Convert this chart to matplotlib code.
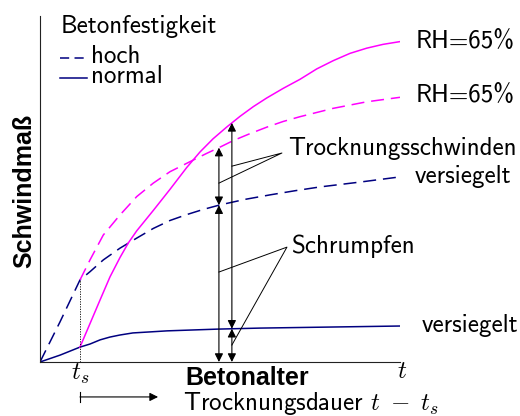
import numpy as np
import matplotlib.pyplot as plt

plt.rcParams['mathtext.fontset'] = 'cm'

# Schwindmass ueber Betonalter t (ohne Einheiten), Trocknungsbeginn bei t_s
ts = 1.11

t_hoch_vers = [0, 0.556, 1.11, 1.389, 1.758, 2.222, 2.686, 3.147, 3.611, 4.075, 4.536,
               5.0, 5.694, 6.389, 7.083, 7.778, 8.889, 10]
eps_hoch_vers = [0, 1.16, 2.37, 2.61, 2.95, 3.29, 3.58, 3.86, 4.09, 4.26, 4.41,
                 4.54, 4.70, 4.83, 4.95, 5.06, 5.20, 5.35]

t_hoch_rh = [1.11, 1.389, 1.758, 2.222, 2.686, 3.147, 3.611, 4.167, 4.631, 5.0, 5.369,
             5.833, 6.306, 6.75, 7.222, 8.139, 9.075, 10]
eps_hoch_rh = [2.37, 2.95, 3.67, 4.25, 4.78, 5.17, 5.50, 5.79, 6.03, 6.21, 6.40,
               6.60, 6.79, 6.95, 7.09, 7.33, 7.52, 7.65]

t_norm_vers = [0, 0.56, 1.11, 1.39, 1.67, 1.94, 2.22, 2.58, 3.06, 3.53, 4.92, 6.11, 8.06, 10]
eps_norm_vers = [0, 0.20, 0.43, 0.52, 0.64, 0.72, 0.78, 0.84, 0.87, 0.90, 0.95, 0.98, 1.01, 1.04]

t_norm_rh = [1.11, 1.389, 1.667, 1.944, 2.222, 2.453, 2.686, 3.147, 3.611, 4.075, 4.444,
             4.806, 5.186, 5.556, 5.925, 6.297, 6.758, 7.222, 7.686, 8.147, 8.611,
             9.075, 9.528, 10]
eps_norm_rh = [0.43, 1.11, 1.79, 2.46, 3.02, 3.44, 3.79, 4.38, 4.99, 5.62, 6.07,
               6.45, 6.79, 7.10, 7.38, 7.63, 7.91, 8.17, 8.47, 8.71, 8.92,
               9.07, 9.18, 9.26]

# Zeitpunkte der Masspfeile (hoch / normal)
t_pfeil_hoch = 4.97
t_pfeil_norm = 5.33

MAG = '#ff00ff'
NAVY = '#000080'
DASH = (0, (8.5, 4.5))
LW = 1.1
FS = 18
REG = 'cmss10'
BOLD = dict(family='Liberation Sans', weight='bold', size=18)

fig = plt.figure(figsize=(5.2, 4.16), dpi=100)
ax = fig.add_axes([40/520, 54/416, 360/520, 346/416])
ax.set_xlim(0, 10)
ax.set_ylim(0, 10)
for s in ['top', 'right']:
    ax.spines[s].set_visible(False)
for s in ['left', 'bottom']:
    ax.spines[s].set_linewidth(0.8)
    ax.spines[s].set_color('#222222')
ax.set_xticks([])
ax.set_yticks([])

ax.plot(t_hoch_vers, eps_hoch_vers, color=NAVY, lw=LW, ls=DASH)
ax.plot(t_hoch_rh, eps_hoch_rh, color=MAG, lw=LW, ls=DASH)
ax.plot(t_norm_vers, eps_norm_vers, color=NAVY, lw=LW)
ax.plot(t_norm_rh, eps_norm_rh, color=MAG, lw=LW)

# Trocknungsbeginn
y_ts = np.interp(ts, t_hoch_vers, eps_hoch_vers)
ax.plot([ts, ts], [0, y_ts], color='k', lw=0.6, ls=(0, (1.5, 1.5)))


def pfeil(x, y1, y2):
    ax.annotate('', xy=(x, y2), xytext=(x, y1),
                arrowprops=dict(arrowstyle='<|-|>,head_length=0.5,head_width=0.25',
                                mutation_scale=10, lw=0.8, color='k',
                                shrinkA=0, shrinkB=0))


# Schrumpfen + Trocknungsschwinden
yh1 = np.interp(t_pfeil_hoch, t_hoch_vers, eps_hoch_vers)
yh2 = np.interp(t_pfeil_hoch, t_hoch_rh, eps_hoch_rh)
pfeil(t_pfeil_hoch, 0, yh1)
pfeil(t_pfeil_hoch, yh1, yh2)
yn1 = np.interp(t_pfeil_norm, t_norm_vers, eps_norm_vers)
yn2 = np.interp(t_pfeil_norm, t_norm_rh, eps_norm_rh)
pfeil(t_pfeil_norm, 0, yn1)
pfeil(t_pfeil_norm, yn1, yn2)

# Hinweislinien
ax.plot([t_pfeil_hoch, 6.72, t_pfeil_norm], [5.17, 6.04, 5.66], color='k', lw=0.7)
ax.plot([t_pfeil_hoch, 6.86, t_pfeil_norm], [2.60, 3.32, 0.49], color='k', lw=0.7)
ax.text(6.89, 5.98, 'Trocknungsschwinden', family=REG, size=FS, va='baseline')
ax.text(7.0, 3.15, 'Schrumpfen', family=REG, size=FS, va='baseline')

# Beschriftung der Kurvenenden
ax.text(10.44, 9.08, 'RH=65%', family=REG, size=FS, va='baseline')
ax.text(10.44, 7.51, 'RH=65%', family=REG, size=FS, va='baseline')
ax.text(10.42, 5.17, 'versiegelt', family=REG, size=FS, va='baseline')
ax.text(10.61, 0.87, 'versiegelt', family=REG, size=FS, va='baseline')

# Legende
ax.text(0.56, 9.51, 'Betonfestigkeit', family=REG, size=FS, va='baseline')
ax.plot([0.56, 1.31], [8.79, 8.79], color=NAVY, lw=LW, ls=(0, (6, 3.5)))
ax.plot([0.56, 1.31], [8.21, 8.21], color=NAVY, lw=LW)
ax.text(1.42, 8.64, 'hoch', family=REG, size=FS, va='baseline')
ax.text(1.42, 8.06, 'normal', family=REG, size=FS, va='baseline')

# Achsen
ax.text(-0.44, 4.94, 'Schwindmaß', rotation=90, ha='center', va='center', **BOLD)
ax.text(4.05, -0.66, 'Betonalter', va='baseline', **BOLD)
ax.text(3.97, -1.39, r'Trocknungsdauer $t\;-\;t_s$', family=REG, size=FS, va='baseline')
ax.text(ts, -0.52, '$t_s$', size=FS, ha='center', va='baseline')
ax.text(10.06, -0.46, '$t$', size=FS, ha='center', va='baseline')

ax.plot([ts, ts], [-0.87, -1.16], color='k', lw=0.8, clip_on=False)
ax.annotate('', xy=(3.28, -1.01), xytext=(ts, -1.01), annotation_clip=False,
            arrowprops=dict(arrowstyle='-|>,head_length=0.5,head_width=0.25',
                            mutation_scale=10, lw=0.8, color='k',
                            shrinkA=0, shrinkB=0))

fig.savefig('out.png', dpi=100)
